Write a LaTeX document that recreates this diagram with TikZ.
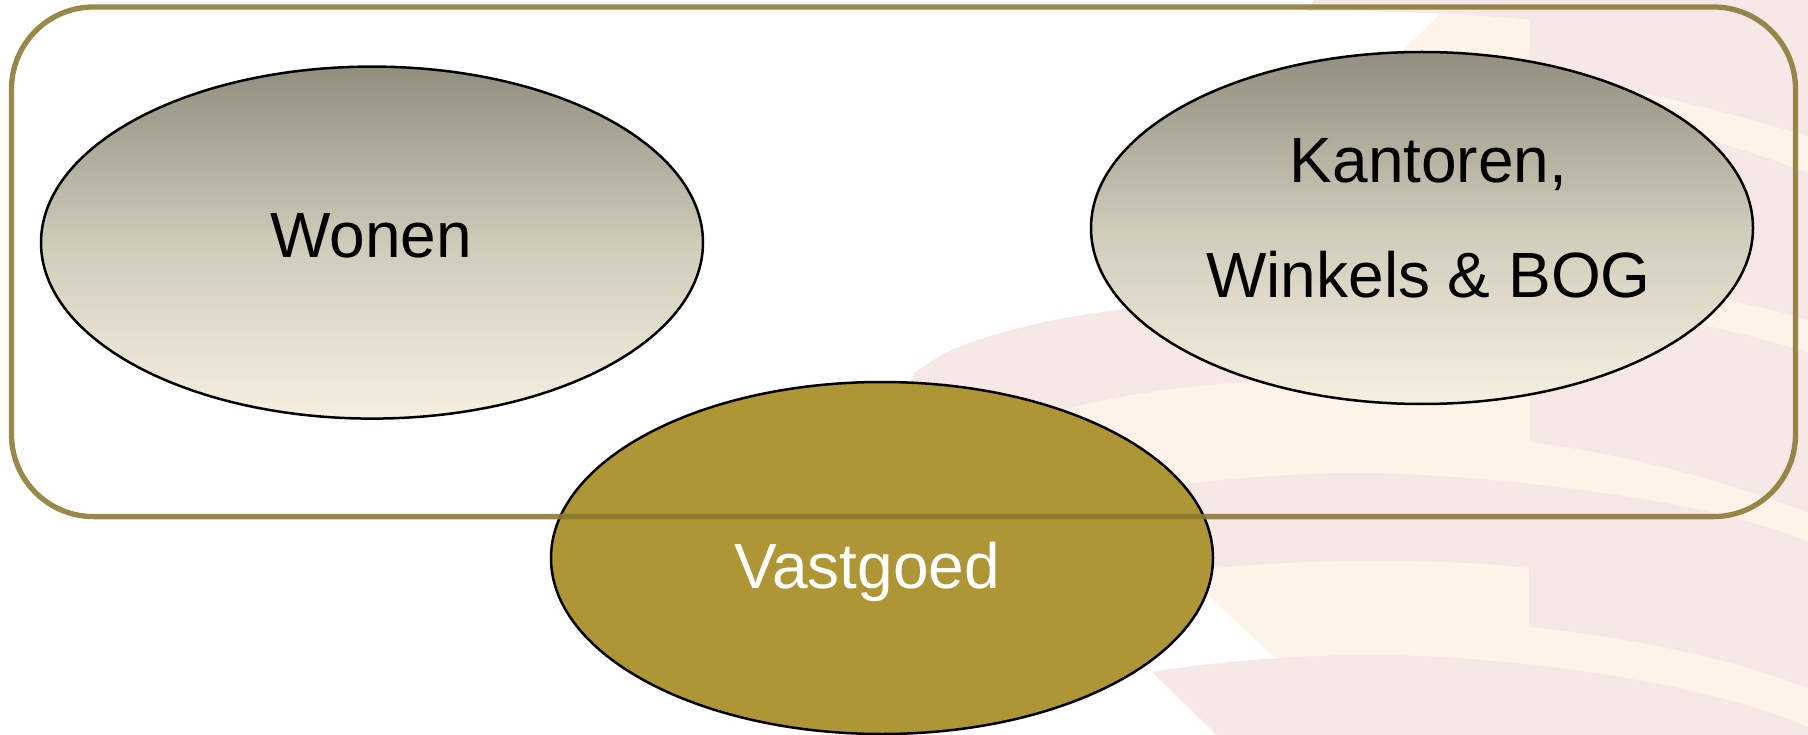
\documentclass[tikz,border=0pt]{standalone}
\usepackage{fontspec}
\setmainfont{Liberation Sans}
\usetikzlibrary{shapes.geometric}
\definecolor{wmpink}{HTML}{F5E8E6}
\definecolor{wmcream}{HTML}{FDF3E9}
\definecolor{frameline}{RGB}{138,120,50}
\definecolor{olivefill}{HTML}{AE9536}
\definecolor{stonelow}{HTML}{F5EFE0}
\definecolor{stonemid}{HTML}{CFCBB9}
\definecolor{stonetop}{HTML}{918E7F}
\pgfdeclareverticalshading{stonegrad}{100bp}{
  color(0bp)=(stonelow);
  color(25bp)=(stonelow);
  color(50bp)=(stonemid);
  color(75bp)=(stonetop);
  color(100bp)=(stonetop)}
\newcommand{\placetext}[3]{\raisebox{#2}{\makebox[0pt]{\kern#1\relax #3}}}
\tikzset{
  oval/.style={shape=ellipse,draw=black,line width=2.5pt,inner sep=0pt,outer sep=0pt,
    minimum width=662pt,minimum height=352pt,text height=0pt,text depth=0pt,
    font=\fontsize{64pt}{115pt}\selectfont},
  stoneoval/.style={oval,shading=stonegrad,text=black},
  goldoval/.style={oval,fill=olivefill,text=white},
  frameshape/.style={shape=rectangle,draw=frameline,draw opacity=.88,line width=5.3pt,
    rounded corners=82pt,inner sep=0pt,outer sep=0pt,minimum width=1784pt,minimum height=509.6pt},
  pinkpatch/.style={fill=wmpink,draw=none},
  creampatch/.style={fill=wmcream,draw=none}
}
\begin{document}
\begin{tikzpicture}[x=1pt,y=-1pt]
\useasboundingbox (0,0) rectangle (1808,735);
\fill[white] (0,0) rectangle (1808,735);
% watermark
\fill[pinkpatch] (1314,0) -- (1808,0) -- (1808,530) -- (1530,530) -- (1530,20)
  .. controls (1470,14) and (1380,10) .. (1307,11) -- cycle;
\fill[creampatch] (1440,14) .. controls (1470,15) and (1500,17) .. (1530,20) -- (1530,100) -- (1377,75) -- cycle;
\fill[creampatch] (1600,85) .. controls (1680,100) and (1750,118) .. (1808,137) -- (1808,173)
  .. controls (1750,150) and (1680,130) .. (1600,115) -- cycle;
\fill[creampatch] (1700,293) .. controls (1740,303) and (1775,310) .. (1808,320) -- (1808,353)
  .. controls (1770,340) and (1720,328) .. (1660,316) -- cycle;
\fill[pinkpatch] (900,420) -- (914,373) -- (929,363)
  .. controls (960,340) and (1040,319) .. (1132,308) -- (1300,285) -- (1530,285) -- (1530,560) -- (1100,560) -- cycle;
\fill[creampatch] (1000,440) -- (1074,407) .. controls (1130,393) and (1190,386) .. (1247,382)
  -- (1530,360) -- (1530,442) .. controls (1630,455) and (1730,482) .. (1808,513)
  -- (1808,730) -- (1274,657) -- (1208,595) -- (1100,560) -- cycle;
\fill[pinkpatch] (1160,490) -- (1187,484) .. controls (1260,475) and (1320,473) .. (1360,473)
  .. controls (1460,473) and (1700,495) .. (1808,542) -- (1808,688)
  .. controls (1730,658) and (1630,637) .. (1529,627) -- (1529,568)
  .. controls (1470,561) and (1410,561) .. (1362,561) .. controls (1310,561) and (1260,564) .. (1213,568) -- (1150,575) -- cycle;
\fill[pinkpatch] (1152,672) .. controls (1220,661) and (1300,655) .. (1371,655)
  .. controls (1500,655) and (1700,680) .. (1808,727) -- (1808,735) -- (1217,735) -- cycle;
% ovals
\node[stoneoval] (wonen) at (372,242.6) {\placetext{-1.5pt}{-15pt}{Wonen}};
\node[stoneoval] (kantoren) at (1422,228) {\placetext{13pt}{-70pt}{\begin{tabular}[b]{@{}c@{}}Kantoren,\\Winkels \& BOG\end{tabular}}};
\node[goldoval] (vastgoed) at (882,558) {\placetext{-30pt}{-30pt}{Vastgoed}};
% frame
\node[frameshape] (frame) at (903.5,261.8) {};
\end{tikzpicture}
\end{document}
